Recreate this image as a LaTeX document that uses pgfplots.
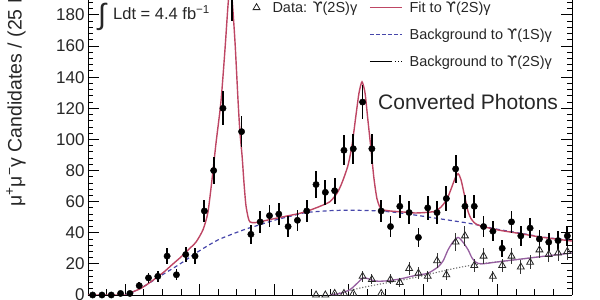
\documentclass[border=0pt]{standalone}
\usepackage{fontspec}
\setmainfont{Liberation Sans}
\newfontfamily\dejavu{DejaVu Sans}
\usepackage{pgfplots}
\usepackage{pgfplotstable}
\pgfplotsset{compat=1.18}
\pgfplotsset{linelegend/.style={legend image code/.code={\draw[##1] (0pt,0pt) -- (32pt,0pt);}}}
\newcommand{\Ups}{{\dejavu ϒ}}
\definecolor{fitred}{RGB}{190,70,100}
\definecolor{fitpurp}{RGB}{150,95,160}
\definecolor{bgblue}{RGB}{70,70,170}
\definecolor{bggray}{RGB}{110,110,110}

% Data: Upsilon(1S) gamma  (mass in GeV, candidates, error)
\pgfplotstableread{
m v e
9.5125 0 0
9.5375 0 0
9.5625 0 0
9.5875 1 1
9.6125 1 1
9.6375 6 2.45
9.6625 11 3.3
9.6875 12 3.5
9.7125 25 5.0
9.7375 13 3.6
9.7625 26 5.1
9.7875 25 5.0
9.8125 54 7.3
9.8375 80 8.9
9.8625 120 11.0
9.8875 190 13.8
9.9125 105 10.2
9.9375 39 6.2
9.9625 47 6.9
9.9875 51 7.1
10.0125 52 7.2
10.0375 44 6.6
10.0625 48 6.9
10.0875 54 7.3
10.1125 71 8.4
10.1375 66 8.1
10.1625 67 8.2
10.1875 93 9.6
10.2125 94 9.7
10.2375 124 11.1
10.2625 94 9.7
10.2875 54 7.3
10.3125 44 6.6
10.3375 57 7.5
10.3625 53 7.3
10.3875 37 6.1
10.4125 56 7.5
10.4375 53 7.3
10.4625 62 7.9
10.4875 81 9.0
10.5125 57 7.5
10.5375 57 7.5
10.5625 44 6.6
10.5875 41 6.4
10.6125 30 5.5
10.6375 47 6.9
10.6625 38 6.2
10.6875 43 6.6
10.7125 36 6.0
10.7375 34 5.8
10.7625 35 5.9
10.7875 38 6.2
}\dataA

% Data: Upsilon(2S) gamma
\pgfplotstableread{
m v e
10.1125 0 0
10.1375 0 0
10.1625 1 1
10.1875 1 1
10.2125 1 1
10.2375 12 3.5
10.2625 10 3.2
10.2875 1 1
10.3125 10 3.2
10.3375 8 2.8
10.3625 17 4.1
10.3875 14 3.7
10.4125 12 3.5
10.4375 22 4.7
10.4625 13 3.6
10.4875 34 5.8
10.5125 38 6.2
10.5375 19 4.4
10.5625 25 5.0
10.5875 12 3.5
10.6125 19 4.4
10.6375 25 5.0
10.6625 18 4.2
10.6875 21 4.6
10.7125 29 5.4
10.7375 26 5.1
10.7625 27 5.2
10.7875 28 5.3
}\dataB

% Fit to Upsilon(1S) gamma
\pgfplotstableread{
m v
9.500 0
9.600 0
9.607 0.3
9.620 2
9.640 4
9.660 7
9.683 11
9.705 15
9.726 19.5
9.750 24.5
9.769 29
9.790 34
9.809 42
9.822 53
9.833 74
9.844 98
9.857 124
9.868 158
9.876 186
9.881 197
9.887 190
9.895 162
9.903 125
9.908 105
9.914 89
9.919 72
9.924 58
9.930 50
9.935 47
9.949 46.5
9.989 48.5
10.029 50.5
10.069 52.5
10.096 54.5
10.123 57
10.150 60
10.169 65.5
10.182 72
10.198 83
10.209 96
10.220 116
10.228 130
10.236 137
10.244 130
10.252 112
10.260 94
10.268 75
10.276 62
10.284 56.5
10.292 54.8
10.311 54
10.338 53.5
10.365 53
10.378 52.7
10.405 53
10.432 53.8
10.448 56.5
10.464 61.5
10.475 68
10.486 75
10.494 78
10.502 74
10.513 62
10.521 53.5
10.529 49
10.539 46.2
10.553 44.5
10.601 41.8
10.660 39.5
10.714 37.3
10.789 35
10.800 34.7
}\fitA

% Background to Upsilon(1S) gamma
\pgfplotstableread{
m v
9.600 0
9.620 1.8
9.650 5.5
9.683 10.5
9.710 14.5
9.734 18
9.760 22
9.787 26.5
9.810 30
9.850 35.5
9.900 40.3
9.932 43
9.950 44.3
10.000 48
10.050 51
10.086 53
10.150 54.2
10.200 54.5
10.250 54.3
10.284 54
10.330 53
10.378 51.4
10.450 48.8
10.513 46.5
10.553 44.7
10.601 42.2
10.660 39.8
10.714 37.5
10.800 35
}\bgA

% Fit to Upsilon(2S) gamma
\pgfplotstableread{
m v
10.150 0
10.177 1
10.204 3.5
10.225 8
10.239 11
10.252 10.5
10.271 9
10.298 9
10.338 10.3
10.378 12.5
10.413 14
10.440 18
10.454 22
10.467 29
10.480 34
10.494 37
10.507 34
10.521 29
10.531 24
10.542 21
10.558 20
10.607 21.5
10.660 23
10.714 24.6
10.800 27
}\fitB

% Background to Upsilon(2S) gamma
\pgfplotstableread{
m v
10.150 0
10.190 2
10.231 4.5
10.284 7
10.338 9.3
10.392 12
10.445 15
10.499 17.8
10.553 20
10.607 21.5
10.660 23
10.714 24.6
10.800 27
}\bgB

\begin{document}
\begin{tikzpicture}
\begin{axis}[
  name=ax,
  scale only axis, width=484pt, height=295pt,
  xmin=9.5, xmax=10.8, ymin=0, ymax=189.6,
  axis x line*=bottom, axis y line*=box,
  tick align=inside,
  xtick={9.6,9.8,10.0,10.2,10.4,10.6,10.8}, xticklabels={},
  minor xtick={9.55,9.65,9.7,9.75,9.85,9.9,9.95,10.05,10.1,10.15,10.25,10.3,10.35,10.45,10.5,10.55,10.65,10.7,10.75},
  ytick={0,20,...,180},
  minor ytick={4,8,...,188},
  major tick length=11pt, minor tick length=5.5pt,
  every tick/.style={black, line width=0.9pt},
  axis line style={black, line width=0.9pt},
  /pgf/number format/assume math mode=true,
  yticklabel style={font=\fontsize{17}{17}\selectfont, text=black!85},
  legend columns=2,
  legend cell align=left,
  legend style={draw=none, fill=none, inner sep=0pt, outer sep=0pt,
    at={(0.3306,0.7695)}, anchor=south west,
    font=\fontsize{14.5}{15}\selectfont, text=black!85,
    nodes={inner sep=0pt},
    row sep=15pt,
    /tikz/column 1/.style={column sep=12.5pt},
    /tikz/column 2/.style={column sep=12pt},
    /tikz/column 3/.style={column sep=7pt}},
]
% fits and backgrounds
\addplot[forget plot, bgblue, line width=1.2pt, dash pattern=on 4pt off 3pt, smooth, tension=0.4] table[x=m,y=v]{\bgA};
\addplot[forget plot, bggray, line width=1.1pt, dash pattern=on 1.2pt off 1.8pt, smooth, tension=0.4] table[x=m,y=v]{\bgB};
\addplot[forget plot, fitpurp, line width=1.3pt, smooth, tension=0.4] table[x=m,y=v]{\fitB};
\addplot[forget plot, fitred, line width=1.4pt, smooth, tension=0.4] table[x=m,y=v]{\fitA};
% data
\addplot[forget plot, only marks, mark=triangle, mark size=4pt,
  mark options={black!85, fill=white, line width=0.8pt},
  error bars/.cd, y dir=both, y explicit,
  error bar style={black!80, line width=1pt}, error mark=none]
  table[x=m, y=v, y error=e]{\dataB};
\addplot[forget plot, only marks, mark=*, mark size=3.2pt, black,
  error bars/.cd, y dir=both, y explicit,
  error bar style={black, line width=1.7pt}, error mark=none]
  table[x=m, y=v, y error=e]{\dataA};
% legend (its upper row lies above the visible part of the figure)
\addlegendimage{only marks, mark=triangle, mark size=4pt, mark options={black!85, line width=0.8pt}}
\addlegendentry{Data: \Ups(2S)γ}
\addlegendimage{linelegend, fitred, line width=1.3pt}
\addlegendentry{Fit to \Ups(2S)γ}
\addlegendimage{empty legend}
\addlegendentry{}
\addlegendimage{linelegend, bgblue, line width=1.2pt, dash pattern=on 4pt off 2pt}
\addlegendentry{Background to \Ups(1S)γ}
\addlegendimage{empty legend}
\addlegendentry{}
\addlegendimage{linelegend, black, line width=1.1pt, dash pattern=on 22pt off 3pt on 1.2pt off 2pt on 1.2pt off 2pt}
\addlegendentry{Background to \Ups(2S)γ}
\end{axis}
% annotations (positions measured from the top-left corner of the axis)
\node[font=\fontsize{29}{29}\selectfont, text=black!85, anchor=center, inner sep=0pt] at ([xshift=14pt,yshift=-17pt]ax.north west) {∫};
\node[font=\fontsize{16.5}{17}\selectfont, text=black!85, anchor=base west, inner sep=0pt] at ([xshift=25pt,yshift=-20pt]ax.north west) {Ldt = 4.4 fb\textsuperscript{−1}};
\node[font=\fontsize{21}{22}\selectfont, text=black!85, anchor=base west, inner sep=0pt] at ([xshift=290pt,yshift=-110pt]ax.north west) {Converted Photons};
\node[font=\fontsize{19.5}{20}\selectfont, text=black!85, rotate=90, anchor=west, inner sep=0pt] at ([xshift=-72pt,yshift=-207pt]ax.north west) {μ\textsuperscript{+}μ\textsuperscript{−}γ Candidates / (25 MeV)};
\pgfresetboundingbox
\path[use as bounding box] ([xshift=-88pt,yshift=-5pt]ax.south west) rectangle ([xshift=28pt]ax.north east);
\end{tikzpicture}
\end{document}
